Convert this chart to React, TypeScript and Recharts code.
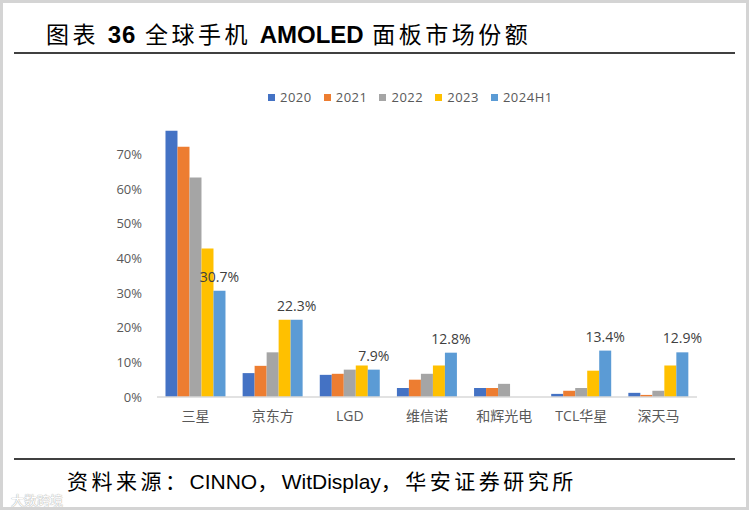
import React from 'react';
import { BarChart, Bar, XAxis, YAxis, Legend, LabelList } from 'recharts';

const categories = ['三星', '京东方', 'LGD', '维信诺', '和辉光电', 'TCL华星', '深天马'];
const s2020 = [76.9, 6.9, 6.4, 2.6, 2.6, 0.9, 1.2];
const s2021 = [72.3, 9.0, 6.7, 5.0, 2.6, 1.8, 0.6];
const s2022 = [63.4, 12.9, 7.9, 6.7, 3.8, 2.6, 1.8];
const s2023 = [42.9, 22.3, 9.1, 9.1, null, 7.6, 9.1];
const s2024H1 = [30.7, 22.3, 7.9, 12.8, null, 13.4, 12.9];
const seriesNames = ['2020', '2021', '2022', '2023', '2024H1'];
const seriesColors = ['#4472C4', '#ED7D31', '#A5A5A5', '#FFC000', '#5B9BD5'];
const yTicks = [0, 10, 20, 30, 40, 50, 60, 70];

const seriesValues = [s2020, s2021, s2022, s2023, s2024H1];
const data = categories.map((c, i) => {
  const row: any = { name: c };
  seriesNames.forEach((s, k) => {
    row[s] = seriesValues[k][i];
  });
  return row;
});

const FONT = '"Open Sans", "Noto Sans CJK SC", sans-serif';
const LATIN = '"Liberation Sans", Arial, sans-serif';

const renderLegend = (props: any) => {
  const { payload } = props;
  return (
    <div style={{ display: 'flex', fontFamily: FONT, fontSize: 13, color: '#595959', lineHeight: '16px' }}>
      {payload.map((p: any) => (
        <div key={p.value} style={{ display: 'flex', alignItems: 'center', marginRight: 12 }}>
          <span style={{ width: 7, height: 7, background: p.color, display: 'inline-block', marginRight: 5 }} />
          <span style={{ letterSpacing: 0.5 }}>{p.value}</span>
        </div>
      ))}
    </div>
  );
};

export default function App() {
  return (
    <div
      style={{
        position: 'absolute',
        left: 0,
        top: 0,
        width: 749,
        height: 510,
        background: '#fff',
        boxSizing: 'border-box',
        border: '3px solid #d4d4d4',
        overflow: 'hidden',
      }}
    >
      <div
        style={{
          position: 'absolute',
          left: 43,
          top: 16,
          fontSize: 23,
          color: '#000',
          fontFamily: '"Noto Sans CJK SC", sans-serif',
          whiteSpace: 'nowrap',
          lineHeight: '28px',
          letterSpacing: 3.5,
        }}
      >
        <span>图表 </span>
        <span style={{ fontFamily: LATIN, fontWeight: 'bold', fontSize: 24, letterSpacing: 1 }}>36</span>
        <span> 全球手机 </span>
        <span style={{ fontFamily: LATIN, fontWeight: 'bold', fontSize: 24, letterSpacing: 0 }}>AMOLED</span>
        <span> 面板市场份额</span>
      </div>
      <div style={{ position: 'absolute', left: 11, top: 49, width: 721, height: 2, background: '#404040' }} />
      <div style={{ position: 'absolute', left: 11, top: 455, width: 721, height: 2, background: '#404040' }} />
      <div
        style={{
          position: 'absolute',
          left: 64,
          top: 466,
          fontSize: 21,
          color: '#000',
          fontFamily: '"Noto Sans CJK SC", sans-serif',
          whiteSpace: 'nowrap',
          lineHeight: '22px',
          letterSpacing: 3.5,
        }}
      >
        <span>资料来源：</span>
        <span style={{ fontFamily: LATIN, letterSpacing: 0 }}>CINNO</span>
        <span>，</span>
        <span style={{ fontFamily: LATIN, letterSpacing: 0 }}>WitDisplay</span>
        <span>，华安证券研究所</span>
      </div>
      <div
        style={{
          position: 'absolute',
          left: 8,
          top: 489,
          fontSize: 13,
          lineHeight: '15px',
          color: '#fff',
          fontFamily: '"Noto Sans CJK SC", sans-serif',
          textShadow: '0 0 1px #aaa, 0 0 1px #aaa',
        }}
      >
        大数跨境
      </div>
      <div style={{ position: 'absolute', left: -3, top: -3 }}>
        <BarChart
          width={749}
          height={510}
          data={data}
          margin={{ top: 120, right: 52, bottom: 83, left: 97 }}
          barCategoryGap="11%"
          barGap={0}
        >
          <XAxis
            dataKey="name"
            axisLine={{ stroke: '#d9d9d9', strokeWidth: 1.5 }}
            tickLine={false}
            tick={{ fill: '#595959', fontSize: 14, fontFamily: FONT }}
            tickMargin={8}
            height={30}
            interval={0}
          />
          <YAxis
            domain={[0, 80]}
            ticks={yTicks}
            tickFormatter={(v: number) => `${v}%`}
            axisLine={false}
            tickLine={false}
            tick={{ fill: '#595959', fontSize: 13, fontFamily: FONT }}
            tickMargin={9}
            width={60}
          />
          <Legend
            content={renderLegend}
            verticalAlign="middle"
            layout="horizontal"
            wrapperStyle={{ position: 'absolute', top: 89, left: 268, width: 'auto' }}
          />
          {seriesNames.map((s, k) => (
            <Bar key={s} dataKey={s} fill={seriesColors[k]} isAnimationActive={false}>
              {s === '2024H1' ? (
                <LabelList
                  dataKey={s}
                  position="top"
                  offset={9}
                  formatter={(v: any) => (v == null ? '' : `${Number(v).toFixed(1)}%`)}
                  style={{ fill: '#404040', fontSize: 14, fontFamily: FONT }}
                />
              ) : null}
            </Bar>
          ))}
        </BarChart>
      </div>
    </div>
  );
}
